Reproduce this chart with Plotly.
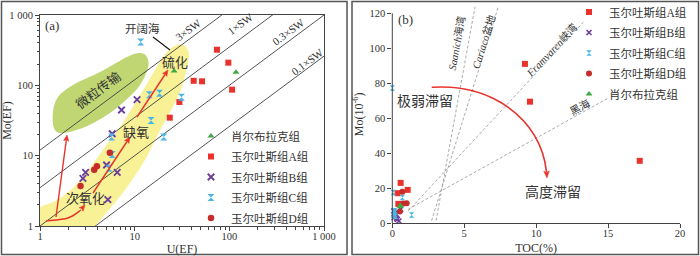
import math
import plotly.graph_objects as go

W, H = 700, 256
FONT = "Liberation Serif, Noto Sans CJK SC"
TXT = "#333333"

# ---------------- panel (a): U(EF) vs Mo(EF) ----------------
xiao_u = [26.1, 117.6]
xiao_mo = [160, 153]
a_u = [74, 97.6, 42, 51.5, 107, 29.7, 23.5]
a_mo = [321, 210, 116, 114, 86.8, 58, 34.7]
b_u = [7.26, 10.6, 5.79, 5.05, 6.54, 3.03, 2.84, 5.21]
b_mo = [44.6, 62.5, 20.5, 7.37, 5.8, 5.8, 4.76, 2.37]
c_u = [11.6, 14.3, 18.3, 31.2, 14.9, 20.3, 5.7, 5.8, 5.38]
c_mo = [413, 73.7, 76.9, 67.5, 31.5, 18.4, 18.4, 10.4, 6.6]
d_u = [5.47, 3.99, 3.74, 2.68]
d_mo = [11.0, 7.05, 6.32, 3.7]

sw_ratio = [12.0, 3.5, 1.0, 0.26]
sw_label = ["3×SW", "1×SW", "0.3×SW", "0.1×SW"]
a_ticks = [1, 10, 100, 1000]
a_ticktext = ["1", "10", "100", "1 000"]

# ---------------- panel (b): TOC vs Mo ----------------
a_toc = [9.22, 9.57, 17.2, 0.58, 1.07, 0.37, 0.42]
a_mo2 = [91.1, 69.5, 35.7, 23.1, 19.1, 17.2, 11.1]
b_toc = [0.30, 0.46, 0.58, 0.10, 0.20, 0.35, 0.12, 0.25]
b_mo2 = [2.9, 1.3, 8.0, 7.0, 6.0, 2.2, 3.2, 5.0]
c_toc = [0.0, 0.07, 0.70, 1.34, 0.19, 0.07, 0.12, 0.15, 0.22]
c_mo2 = [77.3, 17.6, 14.7, 4.8, 6.3, 4.8, 5.6, 7.2, 4.0]
d_toc = [0.70, 0.76, 1.00, 0.53]
d_mo2 = [18.1, 11.3, 11.5, 6.7]
x_toc = [0.53, 0.56]
x_mo2 = [9.5, 10.2]

ref_names = ["<i>Saanich</i>海湾", "<i>Cariaco</i>盆地", "<i>Framvaren</i>峡湾", "黑海"]
ref_toc0 = [3.04, 2.73, 1.10, 1.10]
ref_mo0 = [1.5, 1.5, 7.0, 8.0]
ref_toc1 = [5.75, 7.35, 13.28, 15.02]
ref_mo1 = [123.7, 123.2, 114.9, 71.6]
b_xticks = [0, 5, 10, 15, 20]
b_yticks = [0, 20, 40, 60, 80, 100, 120]

names = ["肖尔布拉克组", "玉尔吐斯组A组", "玉尔吐斯组B组", "玉尔吐斯组C组", "玉尔吐斯组D组"]

# ---------------- layout geometry (pixels) ----------------
AX0, AX1, AY_TOP, AY_BOT = 40, 324, 15, 226
BX0, BX1, BY_TOP, BY_BOT = 392.3, 680, 5.43, 223.3
B_YMAX = 124.5


def P(x, y):
    return x / W, 1 - y / H


def path_str(points, closed=False, tail=""):
    n = len(points)

    def g(i):
        if closed:
            return points[i % n]
        return points[max(0, min(n - 1, i))]

    x, y = P(*points[0])
    d = "M %.5f,%.5f" % (x, y)
    segs = n if closed else n - 1
    for i in range(segs):
        p0, p1, p2, p3 = g(i - 1), g(i), g(i + 1), g(i + 2)
        c1 = (p1[0] + (p2[0] - p0[0]) / 6, p1[1] + (p2[1] - p0[1]) / 6)
        c2 = (p2[0] - (p3[0] - p1[0]) / 6, p2[1] - (p3[1] - p1[1]) / 6)
        q1, q2, q3 = P(*c1), P(*c2), P(*p2)
        d += " C %.5f,%.5f %.5f,%.5f %.5f,%.5f" % (q1 + q2 + q3)
    for t in tail:
        d += " L %.5f,%.5f" % P(*t)
    if closed or tail:
        d += " Z"
    return d


fig = go.Figure()

# SW reference lines (panel a)
for r in sw_ratio:
    fig.add_trace(go.Scatter(x=[1, 1000], y=[r * 1, r * 1000], mode="lines",
                             line=dict(color="#404040", width=0.9),
                             xaxis="x", yaxis="y", showlegend=False, hoverinfo="skip"))

RED = "#e8322b"
mk = {
    "xiao": dict(symbol="triangle-up", color="#3fa845", size=6),
    "A": dict(symbol="square", color=RED, size=6),
    "B": dict(symbol="x-thin", color="#6a3d9a", size=6.5, line=dict(color="#6a3d9a", width=1.8)),
    "C": dict(symbol="hourglass", color="#4cb6e6", size=7),
    "D": dict(symbol="circle", color="#c62d2a", size=6.5),
}

series_a = [("xiao", xiao_u, xiao_mo), ("A", a_u, a_mo), ("B", b_u, b_mo),
            ("C", c_u, c_mo), ("D", d_u, d_mo)]
for (key, xs, ys), nm in zip(series_a, names):
    fig.add_trace(go.Scatter(x=xs, y=ys, mode="markers", name=nm, marker=mk[key],
                             xaxis="x", yaxis="y", legend="legend", legendgroup="a" + key,
                             cliponaxis=False))

# panel b reference dashed lines
for i in range(len(ref_names)):
    fig.add_trace(go.Scatter(x=[ref_toc0[i], ref_toc1[i]], y=[ref_mo0[i], ref_mo1[i]],
                             mode="lines", line=dict(color="#a0a0a0", width=0.9, dash="3px,2px"),
                             xaxis="x2", yaxis="y2", showlegend=False, hoverinfo="skip"))

mk2 = {k: dict(v) for k, v in mk.items()}
mk2["A"]["size"] = 6
mk2["B"]["size"] = 5
mk2["B"]["line"] = dict(color="#6a3d9a", width=1.6)
mk2["C"]["size"] = 5.5
mk2["D"]["size"] = 6
mk2["xiao"]["size"] = 6
series_b = [("A", a_toc, a_mo2, names[1]), ("B", b_toc, b_mo2, names[2]),
            ("C", c_toc, c_mo2, names[3]), ("D", d_toc, d_mo2, names[4]),
            ("xiao", x_toc, x_mo2, names[0])]
for key, xs, ys, nm in series_b:
    fig.add_trace(go.Scatter(x=xs, y=ys, mode="markers", name=nm, marker=mk2[key],
                             xaxis="x2", yaxis="y2", legend="legend2", legendgroup="b" + key,
                             cliponaxis=False))

minor_vals = [m * 10 ** e for e in range(3) for m in range(2, 10)]
axcol = "#444444"
tickfont = dict(family=FONT, size=10.5, color=TXT)
legfont = dict(family=FONT, size=11.5, color=TXT)
titlefont = dict(family=FONT, size=12, color=TXT)

fig.update_layout(
    width=W, height=H,
    margin=dict(l=0, r=0, t=0, b=0, autoexpand=False),
    paper_bgcolor="white", plot_bgcolor="rgba(0,0,0,0)",
    font=dict(family=FONT, color=TXT),
    xaxis=dict(type="log", range=[0, 3], domain=[AX0 / W, AX1 / W], anchor="y",
               tickvals=a_ticks, ticktext=a_ticktext, ticks="outside", ticklen=4,
               ticklabelstandoff=-4,
               tickcolor=axcol, showline=True, linecolor=axcol, linewidth=1, mirror=True,
               showgrid=False, zeroline=False, tickfont=tickfont,
               minor=dict(tickmode="array", tickvals=minor_vals, ticks="outside",
                          ticklen=2.5, tickcolor=axcol, showgrid=False),
               title=dict(text="U(EF)", font=titlefont, standoff=5)),
    yaxis=dict(type="log", range=[0, 3], domain=[1 - AY_BOT / H, 1 - AY_TOP / H], anchor="x",
               tickvals=a_ticks, ticktext=a_ticktext, ticks="outside", ticklen=4,
               tickcolor=axcol, showline=True, linecolor=axcol, linewidth=1, mirror=True,
               showgrid=False, zeroline=False, tickfont=tickfont,
               minor=dict(tickmode="array", tickvals=minor_vals, ticks="outside",
                          ticklen=2.5, tickcolor=axcol, showgrid=False),
               title=dict(text="Mo(EF)", font=titlefont, standoff=4)),
    xaxis2=dict(range=[0, 20], domain=[BX0 / W, BX1 / W], anchor="y2",
                tickvals=b_xticks, ticks="outside", ticklen=4, tickcolor=axcol,
                ticklabelstandoff=-4,
                showline=True, linecolor=axcol, linewidth=1, showgrid=False, zeroline=False,
                tickfont=tickfont,
                title=dict(text="TOC(%)", font=titlefont, standoff=5)),
    yaxis2=dict(range=[0, B_YMAX], domain=[1 - BY_BOT / H, 1 - BY_TOP / H], anchor="x2",
                tickvals=b_yticks, ticks="outside", ticklen=4, tickcolor=axcol,
                showline=False, showgrid=False, zeroline=False, tickfont=tickfont,
                title=dict(text="Mo(10<sup>-6</sup>)", font=titlefont, standoff=3)),
    legend=dict(x=191 / W, y=1 - 121.5 / H, xanchor="left", yanchor="top",
                bgcolor="rgba(0,0,0,0)", font=legfont, itemwidth=30, tracegroupgap=1.5),
    legend2=dict(x=569 / W, y=1 - (-2.5) / H, xanchor="left", yanchor="top",
                 bgcolor="rgba(0,0,0,0)", font=legfont, itemwidth=30, tracegroupgap=1.5),
    showlegend=True,
)

shapes = []
# panel frames
for x0, x1 in [(1.5, 347), (352, 698.5)]:
    a0, b0 = P(x0, 1.5)
    a1, b1 = P(x1, 254.5)
    shapes.append(dict(type="rect", xref="paper", yref="paper", x0=a0, y0=b1, x1=a1, y1=b0,
                       line=dict(color="#555555", width=1.5), layer="above"))

# y spine of panel b from 0 to 120
bx = BX0 / W
y0p = 1 - BY_BOT / H
y120 = 1 - (BY_BOT - (BY_BOT - BY_TOP) * 120 / B_YMAX) / H
shapes.append(dict(type="line", xref="paper", yref="paper", x0=bx, x1=bx, y0=y0p, y1=y120,
                   line=dict(color=axcol, width=1)))

# yellow band
yellow_pts = [(95, 226), (113, 205), (130, 183), (145, 160), (157, 136), (170, 112), (180, 92),
              (186, 72), (189, 55), (185, 46), (177, 45), (168, 51), (158, 65), (148, 82),
              (137, 100), (126, 118), (114, 135), (100, 154), (87, 172), (73, 188), (57, 200),
              (40, 207)]
shapes.append(dict(type="path", xref="paper", yref="paper",
                   path=path_str(yellow_pts, tail=[(40, 226)]),
                   fillcolor="#f8f196", line=dict(width=0), layer="below"))
# green blob
green_pts = [(53, 112), (58, 97), (73, 85), (100, 72), (127, 57), (140, 53), (147, 57), (148, 68),
             (140, 85), (128, 98), (110, 113), (85, 127), (62, 133), (54, 128)]
shapes.append(dict(type="path", xref="paper", yref="paper",
                   path=path_str(green_pts, closed=True),
                   fillcolor="#bfd672", line=dict(width=0), layer="below"))
# pointer line for 开阔海
p0 = P(153, 37)
p1 = P(170, 50)
shapes.append(dict(type="line", xref="paper", yref="paper", x0=p0[0], y0=p0[1], x1=p1[0], y1=p1[1],
                   line=dict(color="#111111", width=1.1)))


def arrow(tx, ty, hx, hy, width=1.4, L=6.0, hw=2.6, draw_line=True):
    dx, dy = hx - tx, hy - ty
    n = math.hypot(dx, dy)
    ux, uy = dx / n, dy / n
    bx_, by_ = hx - ux * L * 0.8, hy - uy * L * 0.8
    cx_, cy_ = hx - ux * L, hy - uy * L
    nx, ny = -uy, ux
    if draw_line:
        s0, s1 = P(tx, ty), P(bx_, by_)
        shapes.append(dict(type="line", xref="paper", yref="paper", x0=s0[0], y0=s0[1],
                           x1=s1[0], y1=s1[1], line=dict(color=RED, width=width)))
    h = P(hx, hy)
    l = P(cx_ + nx * hw, cy_ + ny * hw)
    r = P(cx_ - nx * hw, cy_ - ny * hw)
    m = P(bx_, by_)
    shapes.append(dict(type="path", xref="paper", yref="paper",
                       path="M %.5f,%.5f L %.5f,%.5f L %.5f,%.5f L %.5f,%.5f Z" % (h + l + m + r),
                       fillcolor=RED, line=dict(color=RED, width=0.5)))


# curved red arrow (panel a)
shapes.append(dict(type="path", xref="paper", yref="paper",
                   path=path_str([(46, 221), (68, 218), (81, 210)]),
                   line=dict(color=RED, width=1.4)))
arrow(78, 213, 85, 205, draw_line=False)
arrow(56, 217, 67, 135)
arrow(93, 193, 130, 137)
arrow(137, 117, 168, 70)

# red arc (panel b)
q0, q1, q2, q3 = P(431.7, 87.3), P(490, 83), P(541, 118), P(546.5, 172)
shapes.append(dict(type="path", xref="paper", yref="paper",
                   path="M %.5f,%.5f C %.5f,%.5f %.5f,%.5f %.5f,%.5f" % (q0 + q1 + q2 + q3),
                   line=dict(color=RED, width=1.6)))
arrow(546.3, 168, 547, 178, draw_line=False, L=7, hw=2.8)
fig.update_layout(shapes=shapes)

ann = []


def text(x, y, s, size=12, angle=0, color=TXT):
    px_, py_ = P(x, y)
    ann.append(dict(x=px_, y=py_, xref="paper", yref="paper", text=s, showarrow=False,
                    textangle=angle, font=dict(family=FONT, size=size, color=color),
                    xanchor="center", yanchor="middle"))


text(52, 25, "(a)", 13)
text(142, 28, "开阔海", 11.5)
text(188, 30, "3×SW", 11, -36.6)
text(240, 24, "1×SW", 11, -36.6)
text(288, 32, "0.3×SW", 11, -36.6)
text(307, 62, "0.1×SW", 11, -36.6)
text(98, 90, "微粒传输", 13, -37)
text(175, 62, "硫化", 13)
text(136, 132, "缺氧", 13)
text(85, 198, "次氧化", 13)

text(405, 19, "(b)", 13)
text(456.5, 43, ref_names[0], 10.5, -79.6)
text(483.5, 42, ref_names[1], 10.5, -72.5)
text(551.7, 50, ref_names[2], 10.5, -46.6)
text(580, 106.7, ref_names[3], 10.5, -29)
text(425, 101.7, "极弱滞留", 14)
text(553.3, 191.7, "高度滞留", 14)

fig.update_layout(annotations=ann)
fig.write_html("out.html", config={"displayModeBar": False},
               post_script="document.body.style.margin='0';document.body.style.padding='0';")
